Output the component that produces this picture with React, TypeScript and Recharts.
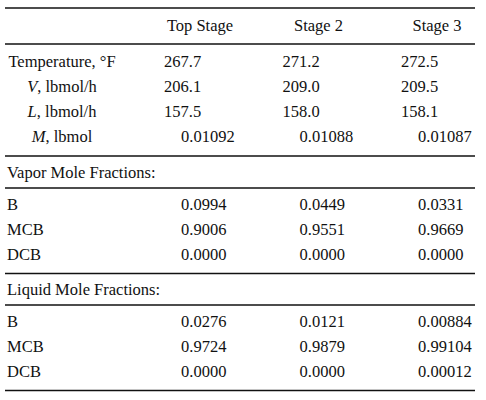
import { ScatterChart, Scatter, XAxis, YAxis, ReferenceLine } from "recharts"

const stages = ["Top Stage", "Stage 2", "Stage 3"]
const temperature = ["267.7", "271.2", "272.5"]
const vaporFlow = ["206.1", "209.0", "209.5"]
const liquidFlow = ["157.5", "158.0", "158.1"]
const holdup = ["0.01092", "0.01088", "0.01087"]
const components = ["B", "MCB", "DCB"]
const vaporFractions = [
  ["0.0994", "0.0449", "0.0331"],
  ["0.9006", "0.9551", "0.9669"],
  ["0.0000", "0.0000", "0.0000"],
]
const liquidFractions = [
  ["0.0276", "0.0121", "0.00884"],
  ["0.9724", "0.9879", "0.99104"],
  ["0.0000", "0.0000", "0.00012"],
]

// property rows: italic symbol + unit text
const properties = [
  { sym: "", unit: "Temperature, °F", values: temperature, shift: 0 },
  { sym: "V", unit: ", lbmol/h", values: vaporFlow, shift: 0 },
  { sym: "L", unit: ", lbmol/h", values: liquidFlow, shift: 0 },
  { sym: "M", unit: ", lbmol", values: holdup, shift: 1 },
]

const W = 486
const H = 400
const FONT = "'Liberation Serif', 'Times New Roman', serif"
const ROW = 25
const LEFT = 7
const LABEL_CENTER = 62
const COL0 = 164
const COL_STEP = 118.5
const SHIFT = 17
const RULE_X = [5, 475]

type Cell = { x: number; y: number; text: string; sym?: string; anchor: string }

const cells: Cell[] = []
const rules: number[] = [8, 44]

stages.forEach((s, i) => {
  cells.push({ x: COL0 + 36 + i * COL_STEP, y: 31, text: s, anchor: "middle" })
})

let y = 66.7
properties.forEach((p) => {
  cells.push({ x: LABEL_CENTER, y, text: p.unit, sym: p.sym, anchor: "middle" })
  p.values.forEach((v, i) => {
    cells.push({ x: COL0 + i * COL_STEP + p.shift * SHIFT, y, text: v, anchor: "start" })
  })
  y += ROW
})
rules.push(y - 10.7)

const section = (title: string, rows: string[][], start: number) => {
  let yy = start
  cells.push({ x: LEFT, y: yy, text: title, anchor: "start" })
  rules.push(yy + 10)
  yy += 32
  rows.forEach((r, k) => {
    cells.push({ x: LEFT, y: yy, text: components[k], anchor: "start" })
    r.forEach((v, i) => {
      cells.push({ x: COL0 + SHIFT + i * COL_STEP, y: yy, text: v, anchor: "start" })
    })
    yy += ROW
  })
  rules.push(yy - 11.5)
  return yy
}

const next = section("Vapor Mole Fractions:", vaporFractions, 178)
section("Liquid Mole Fractions:", liquidFractions, next + 10)

const renderCell = (props: any) => {
  const c: Cell = props.payload
  return (
    <text
      x={props.cx}
      y={props.cy}
      textAnchor={c.anchor as any}
      fontFamily={FONT}
      fontSize={16.5}
      fill="#111"
    >
      {c.sym ? <tspan fontStyle="italic">{c.sym}</tspan> : null}
      <tspan>{c.text}</tspan>
    </text>
  )
}

export default function App() {
  return (
    <div style={{ position: "absolute", left: 0, top: 0, background: "#fff" }}>
      <ScatterChart width={W} height={H} margin={{ top: 0, right: 0, bottom: 0, left: 0 }}>
        <XAxis type="number" dataKey="x" domain={[0, W]} hide />
        <YAxis type="number" dataKey="y" domain={[0, H]} reversed hide />
        {rules.map((r, i) => (
          <ReferenceLine
            key={`rule-${i}`}
            segment={[
              { x: RULE_X[0], y: r },
              { x: RULE_X[1], y: r },
            ]}
            stroke="#111"
            strokeWidth={1.3}
          />
        ))}
        <Scatter data={cells} shape={renderCell} isAnimationActive={false} />
      </ScatterChart>
    </div>
  )
}
